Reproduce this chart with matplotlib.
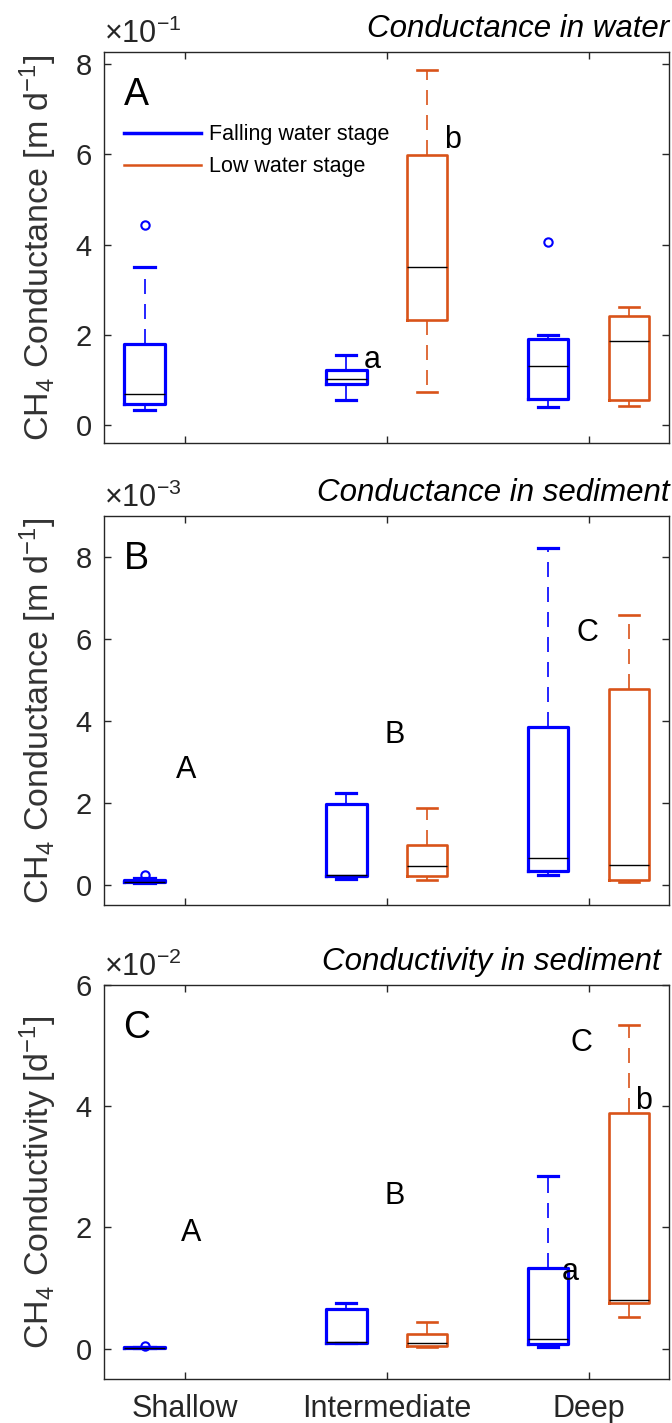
import numpy as np
import matplotlib.pyplot as plt
from matplotlib.lines import Line2D

plt.rcParams['font.family'] = ['Liberation Sans', 'DejaVu Sans']
plt.rcParams['mathtext.fontset'] = 'custom'
plt.rcParams['mathtext.rm'] = 'Liberation Sans'
plt.rcParams['mathtext.it'] = 'Liberation Sans:italic'

sites = ['Shallow', 'Intermediate', 'Deep']
fall_col = '#0000FF'
low_col = '#D95319'
grey = '#262626'

# box stats per site: whislo, q1, median, q3, whishi  (values as on the axis, times 10^exp)
# panel A - conductance in water, x10^-1 m/d
a_fall = [[0.33, 0.47, 0.69, 1.79, 3.51],
          [0.55, 0.90, 1.02, 1.21, 1.56],
          [0.40, 0.58, 1.30, 1.90, 1.99]]
a_fall_out = [[4.44], [], [4.05]]
a_low = [[0.73, 2.32, 3.50, 5.99, 7.87],      # intermediate
         [0.42, 0.55, 1.85, 2.41, 2.61]]      # deep
a_low_out = [[], []]

# panel B - conductance in sediment, x10^-3 m/d
b_fall = [[0.05, 0.07, 0.08, 0.11, 0.16],
          [0.14, 0.22, 0.24, 1.98, 2.24],
          [0.25, 0.35, 0.66, 3.85, 8.22]]
b_fall_out = [[0.24], [], []]
b_low = [[0.13, 0.21, 0.46, 0.97, 1.88],
         [0.07, 0.12, 0.48, 4.77, 6.59]]
b_low_out = [[], []]

# panel C - conductivity in sediment, x10^-2 1/d
c_fall = [[0.005, 0.01, 0.015, 0.02, 0.03],
          [0.09, 0.10, 0.11, 0.66, 0.76],
          [0.03, 0.07, 0.165, 1.33, 2.84]]
c_fall_out = [[0.05], [], []]
c_low = [[0.02, 0.05, 0.10, 0.25, 0.44],
         [0.53, 0.76, 0.80, 3.88, 5.34]]
c_low_out = [[], []]

panels = [
    dict(fall=a_fall, fall_out=a_fall_out, low=a_low, low_out=a_low_out, exp=-1,
         ylim=(-0.4, 8.27), yticks=[0, 2, 4, 6, 8], title='Conductance in water',
         ylabel=r'CH$_4$ Conductance [m d$^{-1}$]', tag='A',
         letters=[('a', 1.93, 1.43), ('b', 2.325, 6.31)]),
    dict(fall=b_fall, fall_out=b_fall_out, low=b_low, low_out=b_low_out, exp=-3,
         ylim=(-0.49, 9.0), yticks=[0, 2, 4, 6, 8], title='Conductance in sediment',
         ylabel=r'CH$_4$ Conductance [m d$^{-1}$]', tag='B',
         letters=[('A', 1.005, 2.80), ('B', 2.04, 3.66), ('C', 2.995, 6.15)]),
    dict(fall=c_fall, fall_out=c_fall_out, low=c_low, low_out=c_low_out, exp=-2,
         ylim=(-0.5, 6.0), yticks=[0, 2, 4, 6], title='Conductivity in sediment',
         ylabel=r'CH$_4$ Conductivity [d$^{-1}$]', tag='C',
         letters=[('A', 1.03, 1.90), ('B', 2.04, 2.51), ('C', 2.963, 5.04),
                  ('b', 3.27, 4.08), ('a', 2.91, 1.27)]),
]

# axes rectangles in figure fractions (left, bottom, width, height)
rects = [[0.155, 0.6887, 0.841, 0.2748],
         [0.155, 0.364, 0.841, 0.2734],
         [0.155, 0.0309, 0.841, 0.277]]


def stats(rows, outs):
    return [dict(whislo=r[0], q1=r[1], med=r[2], q3=r[3], whishi=r[4], fliers=o)
            for r, o in zip(rows, outs)]


def draw(ax, st, pos, col, lw):
    ax.bxp(st, positions=pos, widths=0.2, capwidths=0.1, manage_ticks=False,
           boxprops=dict(color=col, lw=lw),
           whiskerprops=dict(color=col, lw=1.2, linestyle=(0, (9, 6))),
           capprops=dict(color=col, lw=lw),
           medianprops=dict(color='black', lw=1.0),
           flierprops=dict(marker='o', markeredgecolor=col, markerfacecolor='none',
                           markersize=6, markeredgewidth=1.5))


fig = plt.figure(figsize=(6.72, 14.23), dpi=100)

for i, p in enumerate(panels):
    ax = fig.add_axes(rects[i])
    x = np.arange(1, len(sites) + 1)
    draw(ax, stats(p['fall'], p['fall_out']), list(x - 0.2), fall_col, 2.3)
    draw(ax, stats(p['low'], p['low_out']), list(x[1:] + 0.2), low_col, 1.9)

    ax.set_xlim(0.6, 3.4)
    ax.set_ylim(*p['ylim'])
    ax.set_yticks(p['yticks'])
    ax.set_xticks(x)
    if i == 2:
        ax.set_xticklabels(sites)
    else:
        ax.set_xticklabels([])
    ax.tick_params(direction='in', length=5, width=1, colors=grey, labelsize=21,
                   top=True, right=True, pad=9)
    ax.tick_params(axis='x', labelsize=22, pad=11)
    for s in ax.spines.values():
        s.set_color(grey)
        s.set_linewidth(1)

    ax.set_ylabel(p['ylabel'], fontsize=24.5, color='#333333', labelpad=12)
    ax.text(0.0, 1.005, r'$\times10^{%d}$' % p['exp'], transform=ax.transAxes,
            fontsize=22, color=grey, ha='left', va='bottom')
    ax.text(1.0 if i < 2 else 0.985, 1.02, p['title'], transform=ax.transAxes,
            fontsize=22.5, style='italic', ha='right', va='bottom')
    ax.text(0.76, p['ylim'][1] - 0.11 * (p['ylim'][1] - p['ylim'][0]), p['tag'],
            fontsize=27, ha='center', va='center')
    for t, tx, ty in p['letters']:
        ax.text(tx, ty, t, fontsize=22, ha='center', va='center')

    if i == 0:
        h = [Line2D([], [], color=fall_col, lw=2.5), Line2D([], [], color=low_col, lw=1.8)]
        ax.legend(h, ['Falling water stage', 'Low water stage'], loc='upper left',
                  bbox_to_anchor=(0.035, 0.815), frameon=False, fontsize=15.5,
                  handlelength=3.6, handletextpad=0.35, labelspacing=0.5,
                  borderaxespad=0, borderpad=0)

fig.savefig('out.png', dpi=100)
